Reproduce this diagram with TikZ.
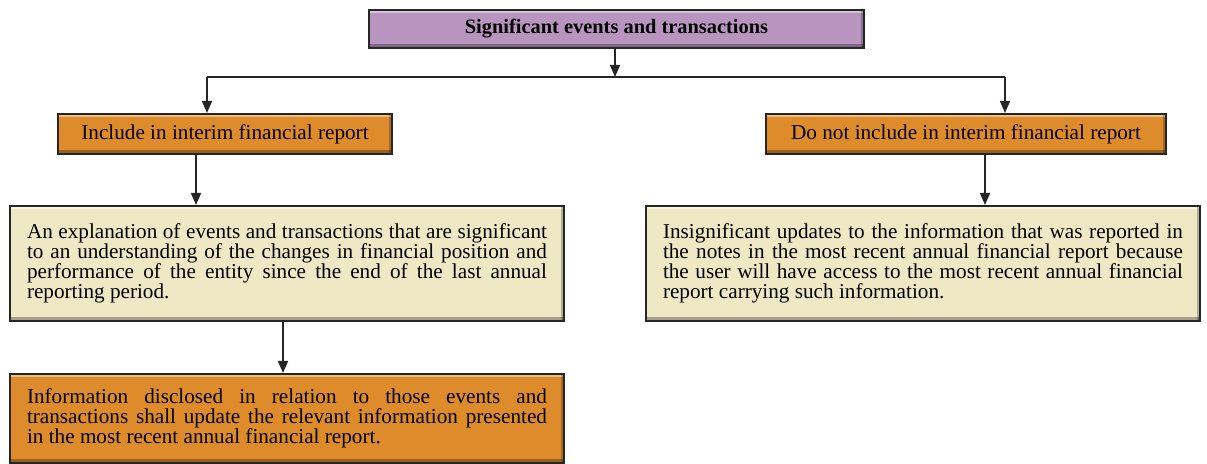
\documentclass[tikz,border=0pt]{standalone}
\usepackage{fontspec}
\setmainfont{Liberation Serif}
\usetikzlibrary{arrows.meta}

\definecolor{boxpurple}{HTML}{B795BF}
\definecolor{boxorange}{HTML}{DE8C2B}
\definecolor{boxbeige}{HTML}{EEE8C4}

\begin{document}
\begin{tikzpicture}[x=0.5pt,y=-0.5pt,
  box/.style={draw=black!85,line width=1pt,anchor=north west,
    inner xsep=8.5pt,inner ysep=0pt,
    font=\fontsize{10.6}{10}\selectfont,
    path picture={
      \fill[white,opacity=0.45] (path picture bounding box.north west)
        rectangle ([yshift=-1.6pt]path picture bounding box.north east);
      \fill[black,opacity=0.3] ([yshift=2.2pt]path picture bounding box.south west)
        rectangle (path picture bounding box.south east);
      \fill[black,opacity=0.25] ([xshift=-1.6pt]path picture bounding box.north east)
        rectangle (path picture bounding box.south east);}},
  textbox/.style={box,text width=260pt,align=justify,minimum height=57.5pt},
  arr/.style={-{Triangle[length=6pt,width=5pt]},line width=0.8pt,black!85}]

\useasboundingbox (0,0) rectangle (1207,464);

% Significant events
\node[box,fill=boxpurple,minimum width=247.5pt,minimum height=19pt,
  font=\fontsize{10.2}{10}\selectfont\bfseries] (sig) at (368,9)
{Significant events and transactions};

% Include / do not include
\node[box,fill=boxorange,minimum width=167pt,minimum height=20pt] (inc) at (57,113)
{Include in interim financial report};

\node[box,fill=boxorange,minimum width=200pt,minimum height=20pt] (notinc) at (765,113)
{Do not include in interim financial report};

% Explanations
\node[textbox,fill=boxbeige] (expl) at (9,205)
{An explanation of events and transactions that are significant\linebreak
to an understanding of the changes in financial position and\linebreak
performance of the entity since the end of the last annual\linebreak
reporting period.};

\node[textbox,fill=boxbeige] (insig) at (645,205)
{Insignificant updates to the information that was reported in\linebreak
the notes in the most recent annual financial report because\linebreak
the user will have access to the most recent annual financial\linebreak
report carrying such information.};

\node[textbox,fill=boxorange,minimum height=44.5pt] (info) at (9,373)
{Information disclosed in relation to those events and\linebreak
transactions shall update the relevant information presented\linebreak
in the most recent annual financial report.};

% Connectors
\coordinate (split) at (615,77);
\coordinate (jl) at (207,77);
\coordinate (jr) at (1005,77);

\draw[arr] (sig.south -| split) -- (split);
\draw[line width=0.8pt,black!85] (jl) -- (jr);
\draw[arr] (jl) -- (jl |- inc.north);
\draw[arr] (jr) -- (jr |- notinc.north);

\draw[arr] (inc.south -| 196,0) -- (expl.north -| 196,0);
\draw[arr] (notinc.south -| 985,0) -- (insig.north -| 985,0);
\draw[arr] (expl.south -| 283,0) -- (info.north -| 283,0);

\end{tikzpicture}
\end{document}
